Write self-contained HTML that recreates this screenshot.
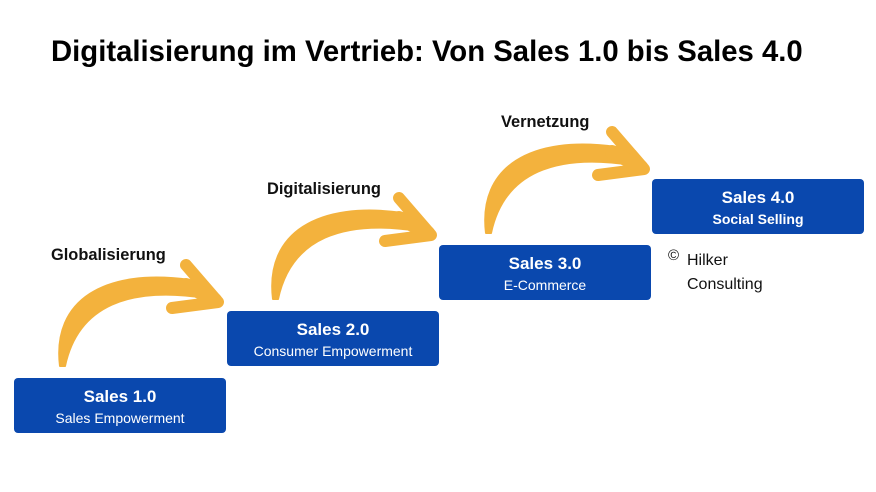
<!DOCTYPE html>
<html><head><style>
body{margin:0;width:876px;height:492px;background:#fff;overflow:hidden;position:relative;font-family:"Liberation Sans",sans-serif}
.t{position:absolute;left:51px;top:35px;font-size:29.3px;font-weight:bold;color:#000;white-space:nowrap}
.l{position:absolute;font-size:16.4px;font-weight:bold;color:#111;white-space:nowrap}
.b{position:absolute;width:212px;height:55px;background:#0a48ae;border-radius:4px;color:#fff;text-align:center}
.b .h{font-size:17px;font-weight:bold;margin-top:9px;line-height:20px}
.b .s{font-size:14px;line-height:18px;margin-top:2px}
.c{position:absolute;left:687px;top:249px;font-size:16px;color:#111;line-height:24px}
.cp{position:absolute;left:668px;top:247px;font-size:15px;color:#111}
</style></head><body>
<div class="t">Digitalisierung im Vertrieb: Von Sales 1.0 bis Sales 4.0</div>
<div class="l" style="left:51px;top:246px">Globalisierung</div>
<div class="l" style="left:267px;top:180px">Digitalisierung</div>
<div class="l" style="left:501px;top:113px">Vernetzung</div>
<svg width="876" height="492" style="position:absolute;left:0;top:0">
<defs><g id="a" fill="#f3b23d" stroke="#f3b23d" stroke-linecap="round" stroke-linejoin="round">
<path d="M60,366 C52,300 105,268 190,280 L206,298 C130,286 78,305 65,366 Z" stroke-width="2"/>
<path d="M186,265 L218,302 L172,308" fill="none" stroke-width="12"/>
<path d="M186,285 L215,300" stroke-width="14"/>
</g></defs>
<use href="#a"/>
<use href="#a" transform="translate(213,-67)"/>
<use href="#a" transform="translate(426,-133)"/>
</svg>
<div class="b" style="left:14px;top:378px"><div class="h">Sales 1.0</div><div class="s">Sales Empowerment</div></div>
<div class="b" style="left:227px;top:311px"><div class="h">Sales 2.0</div><div class="s">Consumer Empowerment</div></div>
<div class="b" style="left:439px;top:245px"><div class="h">Sales 3.0</div><div class="s">E-Commerce</div></div>
<div class="b" style="left:652px;top:179px"><div class="h">Sales 4.0</div><div class="s" style="font-weight:bold">Social Selling</div></div>
<div class="cp">©</div>
<div class="c">Hilker<br>Consulting</div>
</body></html>
